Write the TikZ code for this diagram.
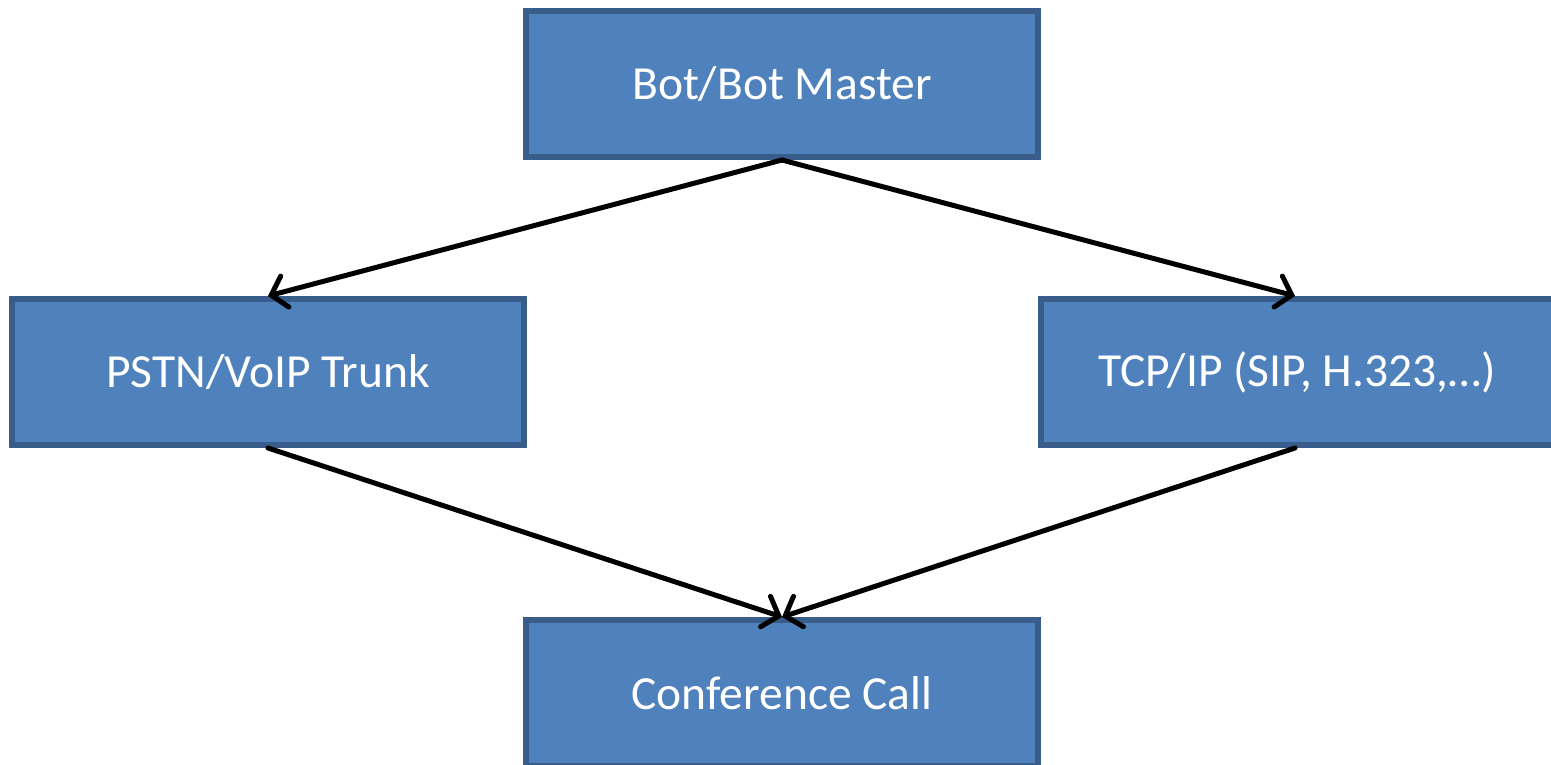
\documentclass[tikz,border=0pt]{standalone}
\usepackage{fontspec}
\setmainfont{Carlito}
\usepackage{xcolor}
\definecolor{boxblue}{RGB}{79,129,189}
\definecolor{boxedge}{RGB}{56,93,138}
\usetikzlibrary{arrows.meta}
\tikzset{
  blockbox/.style={
    draw=boxedge, fill=boxblue, line width=6pt, text=white,
    minimum width=512pt, minimum height=146pt, inner sep=0pt,
    font=\fontsize{47.5}{56}\selectfont
  },
  flowarrow/.style={
    line width=5pt, line cap=round,
    -{Straight Barb[length=14pt,width=32pt,line cap=round]}
  }
}

\begin{document}
\begin{tikzpicture}[x=1pt,y=-1pt]
    \useasboundingbox (0,0) rectangle (1551,765);
    \node[blockbox](bot) at (782,84) {Bot/Bot Master};
    \node[blockbox](pstn) at (268,372) {PSTN/VoIP Trunk};
    \node[blockbox,minimum width=520pt](tcp) at (1301,372) {TCP/IP (SIP, H.323,…)\hspace*{8pt}};
    \node[blockbox](conf) at (782,693) {Conference Call};
    % arrows
    \draw[flowarrow] (bot.south) -- (pstn.north);
    \draw[flowarrow] (bot.south) -- ([xshift=-6pt]tcp.north);
    \draw[flowarrow] (pstn.south) -- (conf.north);
    \draw[flowarrow] ([xshift=-6pt]tcp.south) -- (conf.north);
\end{tikzpicture}
\end{document}
